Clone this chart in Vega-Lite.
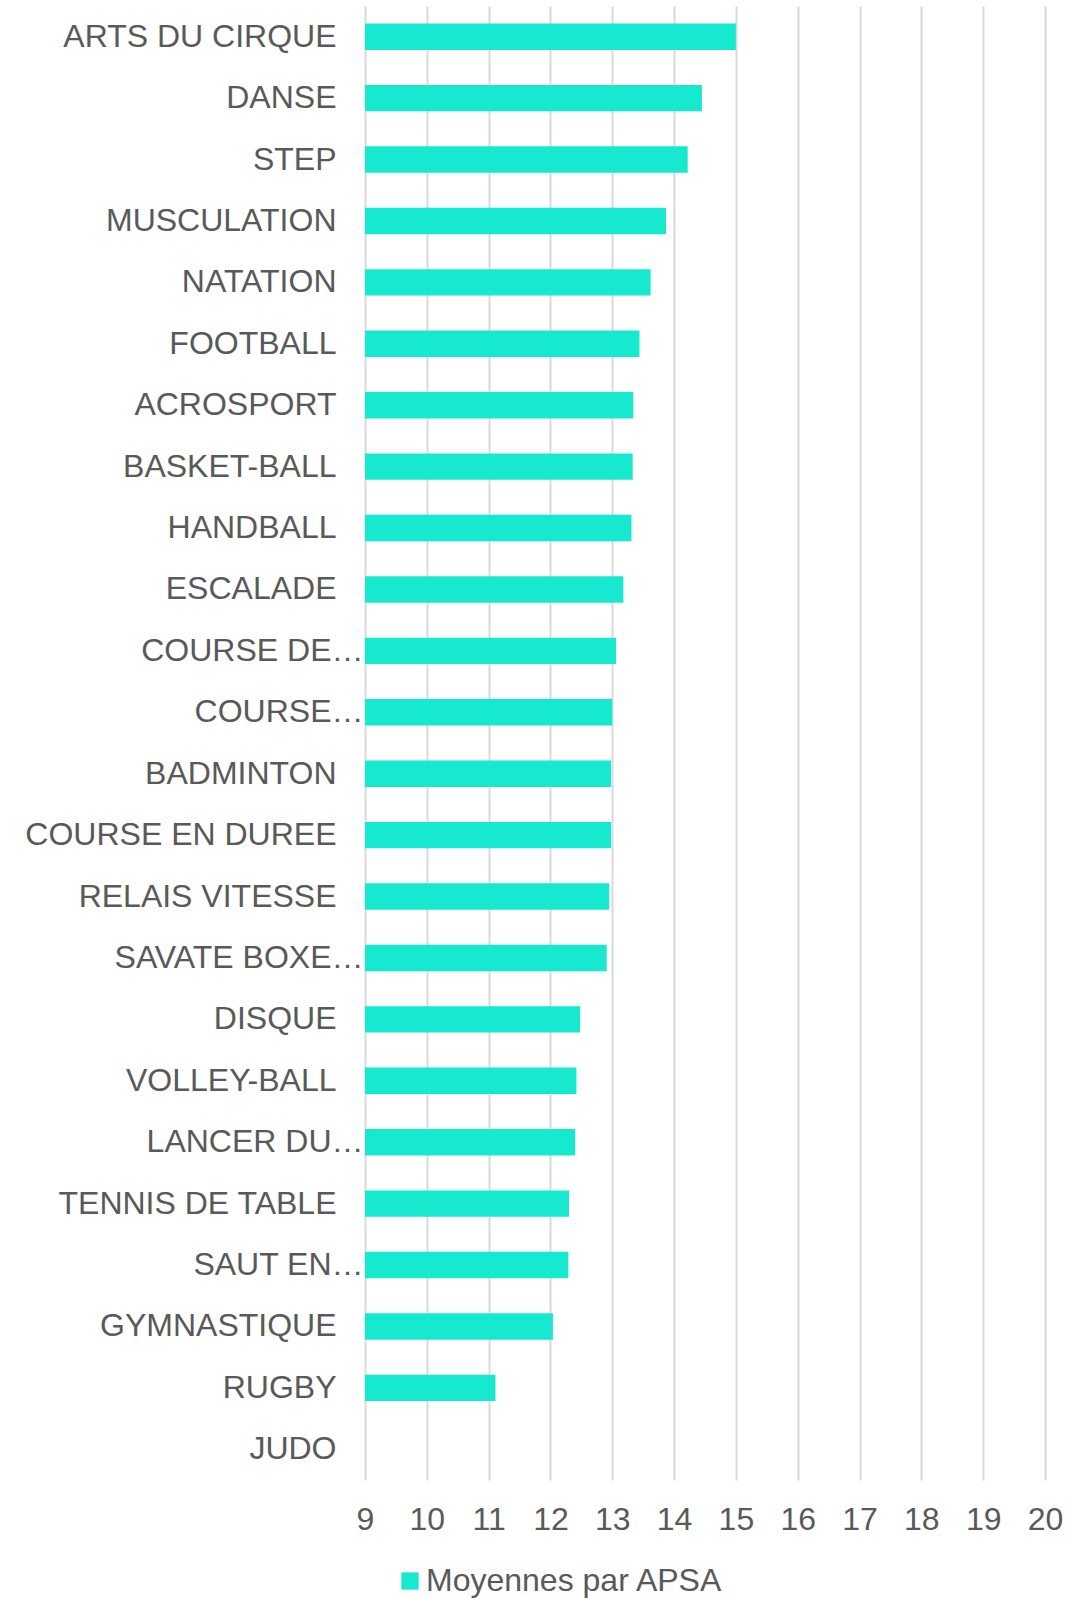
{
  "$schema": "https://vega.github.io/schema/vega-lite/v6.json",
  "width": 680,
  "height": 1474,
  "autosize": "none",
  "padding": {"left": 365, "top": 6, "right": 35, "bottom": 119},
  "background": "white",
  "config": {
    "view": {"stroke": null},
    "font": "Liberation Sans"
  },
  "data": {
    "values": [
      {"apsa": "ARTS DU CIRQUE", "moyenne": 15.0},
      {"apsa": "DANSE", "moyenne": 14.45},
      {"apsa": "STEP", "moyenne": 14.22},
      {"apsa": "MUSCULATION", "moyenne": 13.87},
      {"apsa": "NATATION", "moyenne": 13.62},
      {"apsa": "FOOTBALL", "moyenne": 13.44},
      {"apsa": "ACROSPORT", "moyenne": 13.34},
      {"apsa": "BASKET-BALL", "moyenne": 13.33},
      {"apsa": "HANDBALL", "moyenne": 13.31},
      {"apsa": "ESCALADE", "moyenne": 13.18},
      {"apsa": "COURSE DE…", "moyenne": 13.06},
      {"apsa": "COURSE…", "moyenne": 13.0},
      {"apsa": "BADMINTON", "moyenne": 12.98},
      {"apsa": "COURSE EN DUREE", "moyenne": 12.98},
      {"apsa": "RELAIS VITESSE", "moyenne": 12.95},
      {"apsa": "SAVATE BOXE…", "moyenne": 12.91},
      {"apsa": "DISQUE", "moyenne": 12.48},
      {"apsa": "VOLLEY-BALL", "moyenne": 12.42},
      {"apsa": "LANCER DU…", "moyenne": 12.40},
      {"apsa": "TENNIS DE TABLE", "moyenne": 12.30},
      {"apsa": "SAUT EN…", "moyenne": 12.29},
      {"apsa": "GYMNASTIQUE", "moyenne": 12.04},
      {"apsa": "RUGBY", "moyenne": 11.11},
      {"apsa": "JUDO", "moyenne": 9}
    ]
  },
  "mark": {"type": "bar", "clip": true},
  "encoding": {
    "y": {
      "field": "apsa",
      "type": "nominal",
      "sort": null,
      "scale": {"paddingInner": 0.57, "paddingOuter": 0.285},
      "axis": {
        "title": null,
        "domain": false,
        "ticks": false,
        "labelFont": "Liberation Sans",
        "labelFontSize": 32,
        "labelColor": "#595959",
        "labelPadding": {
          "condition": {"test": "indexof(datum.value, '…') >= 0", "value": 2},
          "value": 29
        },
        "labelLimit": 400
      }
    },
    "x": {
      "field": "moyenne",
      "type": "quantitative",
      "scale": {"domain": [9, 20], "zero": false, "nice": false},
      "axis": {
        "title": null,
        "values": [9, 10, 11, 12, 13, 14, 15, 16, 17, 18, 19, 20],
        "grid": true,
        "gridColor": "#d9d9d9",
        "gridWidth": 2,
        "domain": false,
        "ticks": false,
        "tickSize": 0,
        "labelFont": "Liberation Sans",
        "labelFontSize": 32,
        "labelColor": "#595959",
        "labelPadding": 24,
        "labelFlush": false
      }
    },
    "color": {
      "datum": "Moyennes par APSA",
      "type": "nominal",
      "scale": {"range": ["#16E9D0"]},
      "legend": {
        "title": null,
        "orient": "none",
        "legendX": 29,
        "legendY": 1559,
        "symbolType": "square",
        "symbolSize": 300,
        "symbolStrokeWidth": 0,
        "labelFont": "Liberation Sans",
        "labelFontSize": 32,
        "labelColor": "#595959",
        "labelOffset": 0,
        "labelLimit": 500
      }
    }
  }
}
